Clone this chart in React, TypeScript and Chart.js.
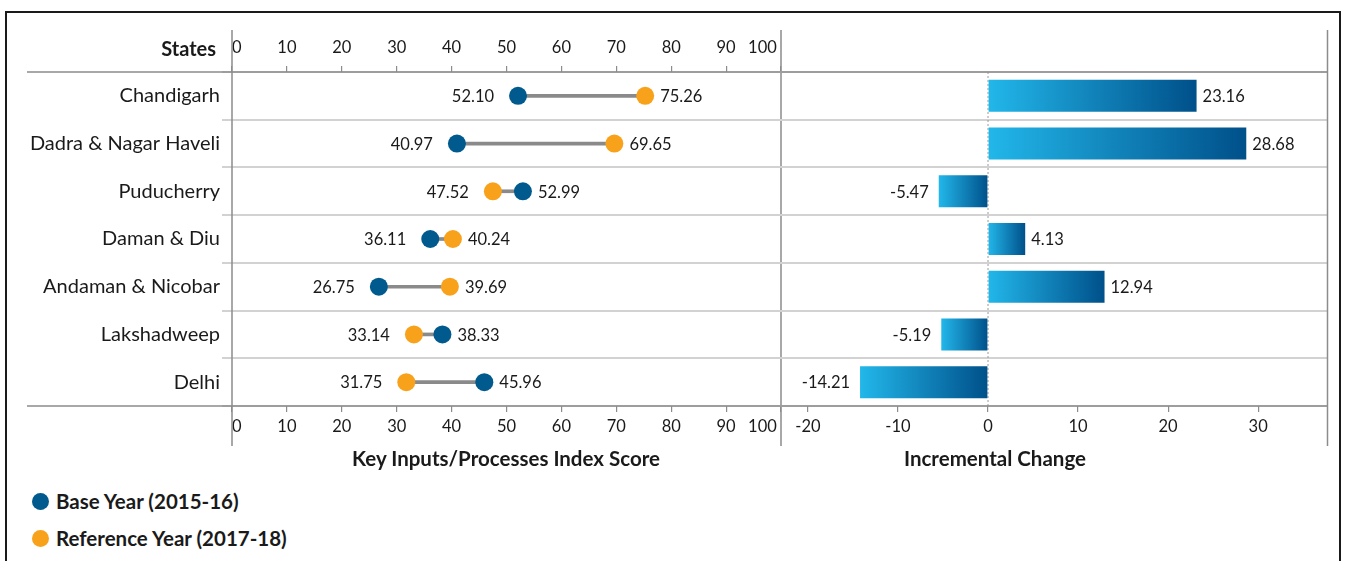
import React, { useEffect, useRef } from 'react';
import { Chart, registerables } from 'chart.js';

Chart.register(...registerables);

// ---------- data ----------
const categories = [
  'Chandigarh',
  'Dadra & Nagar Haveli',
  'Puducherry',
  'Daman & Diu',
  'Andaman & Nicobar',
  'Lakshadweep',
  'Delhi',
];
const baseYear = [52.1, 40.97, 52.99, 36.11, 26.75, 38.33, 45.96];
const referenceYear = [75.26, 69.65, 47.52, 40.24, 39.69, 33.14, 31.75];
const incrementalChange = [23.16, 28.68, -5.47, 4.13, 12.94, -5.19, -14.21];

const indexTicks = [0, 10, 20, 30, 40, 50, 60, 70, 80, 90, 100];
const changeTicks = [-20, -10, 0, 10, 20, 30];
const indexRange = [0, 100];
const changeRange = [-23.1, 37.7];

const baseLabel = 'Base Year (2015-16)';
const referenceLabel = 'Reference Year (2017-18)';
const indexTitle = 'Key Inputs/Processes Index Score';
const changeTitle = 'Incremental Change';
const statesTitle = 'States';

// ---------- styles ----------
const FONT = 'Lato, "Open Sans", sans-serif';
const TEXT = '#1a1a1a';
const BASE_COLOR = '#005a8e';
const REF_COLOR = '#f8a21c';
const CONNECTOR = '#8a8a8a';
const AXIS = '#8c8c8c';
const ROW_LINE = '#d2d2d2';
const BAR_LIGHT = '#22b7ea';
const BAR_DARK = '#00508a';

const W1 = 790;
const H = 470;
const W2 = 567;

const AREA_TOP = 72;
const AREA_BOTTOM = 406;
const LINE_TOP = 30;
const LINE_BOTTOM = 446;
const LINE_LEFT = 27;
const TOP_TICK_PAD = 8;
const PANEL_RIGHT = 780;

const dumbbellDecor = {
  id: 'dumbbellDecor',
  afterDraw(chart: any) {
    const { ctx, chartArea } = chart;
    ctx.save();
    ctx.strokeStyle = AXIS;
    ctx.lineWidth = 1.5;
    ctx.beginPath();
    ctx.moveTo(LINE_LEFT, chartArea.top);
    ctx.lineTo(chart.width, chartArea.top);
    ctx.moveTo(LINE_LEFT, chartArea.bottom);
    ctx.lineTo(chart.width, chartArea.bottom);
    ctx.moveTo(chartArea.left, LINE_TOP);
    ctx.lineTo(chartArea.left, LINE_BOTTOM);
    ctx.moveTo(chartArea.right, LINE_TOP);
    ctx.lineTo(chartArea.right, LINE_BOTTOM);
    ctx.stroke();
    ctx.restore();
  },
  afterDatasetsDraw(chart: any) {
    const { ctx } = chart;
    const mBase = chart.getDatasetMeta(1);
    const mRef = chart.getDatasetMeta(2);
    ctx.save();
    ctx.font = `16.5px ${FONT}`;
    ctx.fillStyle = TEXT;
    ctx.textBaseline = 'middle';
    categories.forEach((_, i) => {
      const pb = mBase.data[i];
      const pr = mRef.data[i];
      const items = [
        { x: pb.x, y: pb.y, v: baseYear[i] },
        { x: pr.x, y: pr.y, v: referenceYear[i] },
      ].sort((a, b) => a.x - b.x);
      ctx.textAlign = 'right';
      ctx.fillText(items[0].v.toFixed(2), items[0].x - 24, items[0].y + 1);
      ctx.textAlign = 'left';
      ctx.fillText(items[1].v.toFixed(2), items[1].x + 15, items[1].y + 1);
    });
    ctx.restore();
  },
};

const barDecor = {
  id: 'barDecor',
  beforeDatasetsDraw(chart: any) {
    const { ctx, chartArea, scales } = chart;
    const x0 = scales.x.getPixelForValue(0);
    ctx.save();
    ctx.strokeStyle = '#9a9a9a';
    ctx.lineWidth = 1;
    ctx.setLineDash([2, 2]);
    ctx.beginPath();
    ctx.moveTo(x0, chartArea.top);
    ctx.lineTo(x0, chartArea.bottom);
    ctx.stroke();
    ctx.restore();
  },
  afterDraw(chart: any) {
    const { ctx, chartArea } = chart;
    ctx.save();
    ctx.strokeStyle = AXIS;
    ctx.lineWidth = 1.5;
    ctx.beginPath();
    ctx.moveTo(0, chartArea.top);
    ctx.lineTo(chartArea.right, chartArea.top);
    ctx.moveTo(0, chartArea.bottom);
    ctx.lineTo(chartArea.right, chartArea.bottom);
    ctx.moveTo(chartArea.right, LINE_TOP);
    ctx.lineTo(chartArea.right, LINE_BOTTOM);
    ctx.stroke();
    ctx.restore();
  },
  afterDatasetsDraw(chart: any) {
    const { ctx } = chart;
    const meta = chart.getDatasetMeta(0);
    ctx.save();
    ctx.font = `16.5px ${FONT}`;
    ctx.fillStyle = TEXT;
    ctx.textBaseline = 'middle';
    meta.data.forEach((el: any, i: number) => {
      const v = incrementalChange[i];
      if (v >= 0) {
        ctx.textAlign = 'left';
        ctx.fillText(v.toFixed(2), el.x + 6, el.y + 1);
      } else {
        ctx.textAlign = 'right';
        ctx.fillText(v.toFixed(2), el.x - 10, el.y + 1);
      }
    });
    ctx.restore();
  },
};

function indexAxis(position: 'top' | 'bottom', padding: number, height: number) {
  return {
    type: 'linear' as const,
    position,
    min: indexRange[0],
    max: indexRange[1],
    afterBuildTicks: (s: any) => {
      s.ticks = indexTicks.map((v) => ({ value: v }));
    },
    grid: { drawOnChartArea: false, color: AXIS, tickLength: 6, lineWidth: 1.2 },
    border: { display: false },
    ticks: {
      align: 'inner' as const,
      maxRotation: 0,
      autoSkip: false,
      padding,
      color: TEXT,
      font: { family: FONT, size: 16.5 },
      // a little breathing room between the last label and the panel edge
      callback: (v: any) => (v === indexRange[1] ? `${v} ` : `${v}`),
    },
    afterFit: (s: any) => {
      s.height = height;
    },
  };
}

export default function App() {
  const ref1 = useRef<HTMLCanvasElement>(null);
  const ref2 = useRef<HTMLCanvasElement>(null);

  useEffect(() => {
    const c1 = new Chart(ref1.current as HTMLCanvasElement, {
      type: 'bar',
      data: {
        labels: categories,
        datasets: [
          {
            type: 'bar',
            label: 'range',
            data: categories.map((_, i) => [
              Math.min(baseYear[i], referenceYear[i]),
              Math.max(baseYear[i], referenceYear[i]),
            ]) as any,
            backgroundColor: CONNECTOR,
            barThickness: 3,
            order: 3,
          },
          {
            type: 'line',
            label: baseLabel,
            data: baseYear,
            showLine: false,
            pointRadius: 9,
            pointBorderWidth: 0,
            pointBackgroundColor: BASE_COLOR,
            backgroundColor: BASE_COLOR,
            borderColor: BASE_COLOR,
            clip: false as any,
            order: 1,
          },
          {
            type: 'line',
            label: referenceLabel,
            data: referenceYear,
            showLine: false,
            pointRadius: 9,
            pointBorderWidth: 0,
            pointBackgroundColor: REF_COLOR,
            backgroundColor: REF_COLOR,
            borderColor: REF_COLOR,
            clip: false as any,
            order: 2,
          },
        ] as any,
      },
      options: {
        indexAxis: 'y',
        responsive: false,
        animation: false,
        // the top axis adds its tick padding on the right, so leave room for it
        layout: {
          padding: { left: 0, right: W1 - PANEL_RIGHT - TOP_TICK_PAD, top: 0, bottom: 0 },
        },
        plugins: { legend: { display: false }, tooltip: { enabled: false } },
        scales: {
          y: {
            type: 'category',
            offset: true,
            grid: { offset: true, color: ROW_LINE, tickLength: 10, lineWidth: 2 },
            border: { display: false },
            ticks: { color: TEXT, padding: 2, font: { family: FONT, size: 20 } },
            afterFit: (s: any) => {
              s.width = 232;
            },
          },
          x: indexAxis('bottom', 5, H - AREA_BOTTOM) as any,
          x2: indexAxis('top', TOP_TICK_PAD, AREA_TOP) as any,
        },
      } as any,
      plugins: [dumbbellDecor],
    });

    const c2 = new Chart(ref2.current as HTMLCanvasElement, {
      type: 'bar',
      data: {
        labels: categories,
        datasets: [
          {
            label: changeTitle,
            data: incrementalChange,
            barPercentage: 0.67,
            categoryPercentage: 1,
            backgroundColor: (ctx: any) => {
              const chart = ctx.chart;
              const xs = chart.scales && chart.scales.x;
              if (!xs || ctx.type !== 'data') return BAR_DARK;
              const v = ctx.raw as number;
              const a = xs.getPixelForValue(Math.min(0, v));
              const b = xs.getPixelForValue(Math.max(0, v));
              if (!isFinite(a) || !isFinite(b) || a === b) return BAR_DARK;
              const g = chart.ctx.createLinearGradient(a, 0, b, 0);
              g.addColorStop(0, BAR_LIGHT);
              g.addColorStop(1, BAR_DARK);
              return g;
            },
          },
        ],
      },
      options: {
        indexAxis: 'y',
        responsive: false,
        animation: false,
        layout: { padding: { left: 0, right: W2 - 547.5, top: AREA_TOP, bottom: 0 } },
        plugins: { legend: { display: false }, tooltip: { enabled: false } },
        scales: {
          y: {
            type: 'category',
            offset: true,
            grid: { offset: true, color: ROW_LINE, drawTicks: false, lineWidth: 2 },
            border: { display: false },
            ticks: { display: false },
            afterFit: (s: any) => {
              s.width = 0;
            },
          },
          x: {
            type: 'linear',
            min: changeRange[0],
            max: changeRange[1],
            afterBuildTicks: (s: any) => {
              s.ticks = changeTicks.map((v) => ({ value: v }));
            },
            grid: { drawOnChartArea: false, color: AXIS, tickLength: 6, lineWidth: 1.2 },
            border: { display: false },
            ticks: {
              maxRotation: 0,
              autoSkip: false,
              padding: 5,
              color: TEXT,
              font: { family: FONT, size: 16.5 },
            },
            afterFit: (s: any) => {
              s.height = H - AREA_BOTTOM;
            },
          },
        },
      } as any,
      plugins: [barDecor],
    });

    return () => {
      c1.destroy();
      c2.destroy();
    };
  }, []);

  const bold = { fontFamily: FONT, fontWeight: 700, color: TEXT } as const;

  return (
    <div
      style={{
        position: 'absolute',
        left: 0,
        top: 0,
        width: 1347,
        height: 561,
        overflow: 'hidden',
        background: '#fff',
      }}
    >
      <div
        style={{
          position: 'absolute',
          left: 5,
          top: 11,
          width: 1332,
          height: 600,
          border: '2px solid #1a1a1a',
        }}
      />
      <canvas
        ref={ref1}
        width={W1}
        height={H}
        style={{ position: 'absolute', left: 0, top: 0, width: W1, height: H }}
      />
      <canvas
        ref={ref2}
        width={W2}
        height={H}
        style={{ position: 'absolute', left: 780, top: 0, width: W2, height: H }}
      />
      <div
        style={{
          ...bold,
          position: 'absolute',
          left: 0,
          top: 36,
          width: 216,
          textAlign: 'right',
          fontSize: 20,
          lineHeight: '24px',
        }}
      >
        {statesTitle}
      </div>
      <div
        style={{
          ...bold,
          position: 'absolute',
          left: 232,
          top: 446,
          width: 548,
          textAlign: 'center',
          fontSize: 20.5,
          lineHeight: '24px',
        }}
      >
        {indexTitle}
      </div>
      <div
        style={{
          ...bold,
          position: 'absolute',
          left: 875,
          top: 446,
          width: 240,
          textAlign: 'center',
          fontSize: 20.5,
          lineHeight: '24px',
        }}
      >
        {changeTitle}
      </div>
      {[
        { label: baseLabel, color: BASE_COLOR, y: 501 },
        { label: referenceLabel, color: REF_COLOR, y: 538 },
      ].map((item) => (
        <div key={item.label}>
          <div
            style={{
              position: 'absolute',
              left: 32,
              top: item.y - 8.5,
              width: 17,
              height: 17,
              borderRadius: '50%',
              background: item.color,
            }}
          />
          <div
            style={{
              ...bold,
              position: 'absolute',
              left: 56,
              top: item.y - 12,
              fontSize: 20.5,
              lineHeight: '24px',
              whiteSpace: 'nowrap',
            }}
          >
            {item.label}
          </div>
        </div>
      ))}
    </div>
  );
}
